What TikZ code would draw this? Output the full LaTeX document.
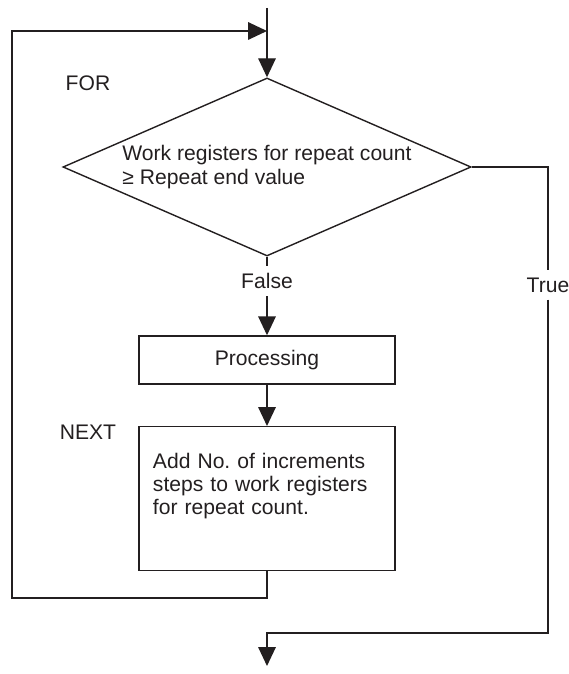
\documentclass[tikz,border=0pt]{standalone}
\usepackage{fontspec}
\setmainfont{Liberation Sans}
\usetikzlibrary{shapes.geometric,arrows.meta,positioning}
\definecolor{ink}{HTML}{231F20}

\begin{document}
\begin{tikzpicture}[
    x=0.025cm, y=-0.025cm,
    every node/.style={font=\fontsize{15}{16.5}\selectfont, text=ink},
    decision/.style={draw=ink, diamond, aspect=2.3, minimum width=10.2cm,
        minimum height=4.45cm, inner sep=0pt, align=left, line width=1pt},
    procbox/.style={draw=ink, rectangle, text width=5.7cm, inner xsep=0.35cm,
        align=left, line width=1pt},
    tag/.style={inner sep=0pt},
    branchtag/.style={inner xsep=2pt, inner ysep=5pt},
    arrow/.style={-{Triangle[length=13.5pt,width=12.5pt]}, line width=1pt, draw=ink},
    wire/.style={line width=1pt, draw=ink}
]
\useasboundingbox (0,0) rectangle (568,674);

% Condition
\node[decision] (cond) at (267,167) {Work registers for repeat count\\≥ Repeat end value};

% Loop body
\node[procbox, align=center, minimum height=1.2cm] (proc) at (267,360) {Processing};
\node[procbox, minimum height=3.6cm, anchor=north] (add) at (267,426)
    {Add No.\ of increments\\steps to work registers\\for repeat count.\rule[-21pt]{0pt}{21pt}};

% Labels
\node[tag] (forlbl) at (88,83) {FOR};
\node[tag] (nextlbl) at (88,432) {NEXT};
\node[branchtag] (falselbl) at (267,281) {False};
\node[branchtag] (truelbl) at (548,285) {True};

% Entry, return and exit points
\coordinate (entry) at (267,8);
\coordinate (back) at (267,31);
\coordinate (loopcorner) at (12,598);
\coordinate (merge) at (267,633);
\coordinate (exit) at (267,666);

% Arrows -- main flow
\draw[arrow] (entry) -- (cond.north);
\draw[wire] (cond.south) -- (falselbl.north);
\draw[arrow] (falselbl.south) -- (proc.north);
\draw[arrow] (proc.south) -- (add.north);

% Arrows -- return to FOR
\draw[arrow] (add.south) |- (loopcorner) |- (back);

% Arrows -- True exit
\draw[wire] (cond.east) -| (truelbl.north);
\draw[arrow] (truelbl.south) |- (merge) -- (exit);

\end{tikzpicture}
\end{document}
